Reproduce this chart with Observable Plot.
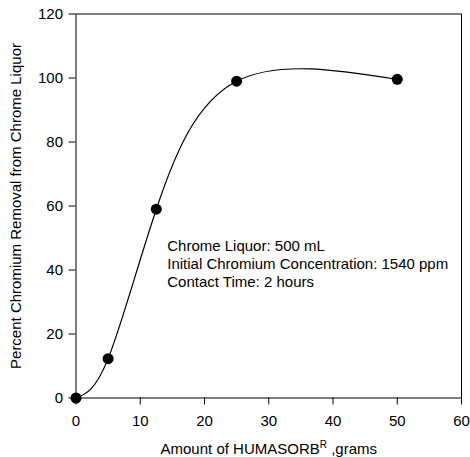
<!DOCTYPE html>
<html><head><meta charset="utf-8">
<script src="https://cdn.jsdelivr.net/npm/d3@7"></script>
<script src="https://cdn.jsdelivr.net/npm/@observablehq/plot@0.6"></script>
<style>html,body{margin:0;padding:0;background:#fff} svg{display:block}</style>
</head><body><div id="chart"></div>
<script>
const amounts = [0, 5, 12.5, 25, 50];
const removal = [0, 12.3, 59, 99, 99.6];
const xTicks = [0, 10, 20, 30, 40, 50, 60];
const yTicks = [0, 20, 40, 60, 80, 100, 120];
const xLabelMain = "Amount of HUMASORB";
const xLabelSup = "R";
const xLabelTail = " ,grams";
const yLabel = "Percent Chromium Removal from Chrome Liquor";
const noteLines = ["Chrome Liquor: 500 mL", "Initial Chromium Concentration: 1540 ppm", "Contact Time: 2 hours"];
const noteX = [14.2];
const noteY = [42];

const data = amounts.map((a, i) => ({amount: a, removal: removal[i]}));

const chart = Plot.plot({
  width: 470, height: 457,
  marginLeft: 75.5, marginRight: 9, marginTop: 13.5, marginBottom: 59.5,
  style: {fontFamily: "'Liberation Sans', Arial, sans-serif", fontSize: "15px", color: "#000", background: "#fff", overflow: "visible"},
  x: {domain: [0, 60], ticks: xTicks, label: xLabelMain + xLabelSup + xLabelTail, labelAnchor: "center", labelOffset: 56, labelArrow: "none", tickSize: 7, tickPadding: 10},
  y: {domain: [0, 120], ticks: yTicks, label: yLabel, labelAnchor: "center", labelOffset: 66, labelArrow: "none", tickSize: 7, tickPadding: 6},
  marks: [
    Plot.frame({stroke: "#000"}),
    Plot.line(data, {x: "amount", y: "removal", curve: "natural", stroke: "#000", strokeWidth: 1.2}),
    Plot.dot(data, {x: "amount", y: "removal", r: 5.5, fill: "#000"}),
    Plot.text([noteLines.join("\n")], {x: noteX, y: noteY, text: d => d, textAnchor: "start", lineAnchor: "middle", lineHeight: 1.2, fontSize: 15, fill: "#000"})
  ]
});

const lab = chart.querySelector('g[aria-label="x-axis label"] text');
if (lab) {
  lab.textContent = "";
  const ns = "http://www.w3.org/2000/svg";
  const t1 = document.createElementNS(ns, "tspan"); t1.textContent = xLabelMain;
  const t2 = document.createElementNS(ns, "tspan"); t2.textContent = xLabelSup;
  t2.setAttribute("dy", "-6"); t2.setAttribute("font-size", "10");
  const t3 = document.createElementNS(ns, "tspan"); t3.textContent = xLabelTail;
  t3.setAttribute("dy", "6");
  lab.append(t1, t2, t3);
}
document.getElementById("chart").append(chart);
</script>
</body></html>
